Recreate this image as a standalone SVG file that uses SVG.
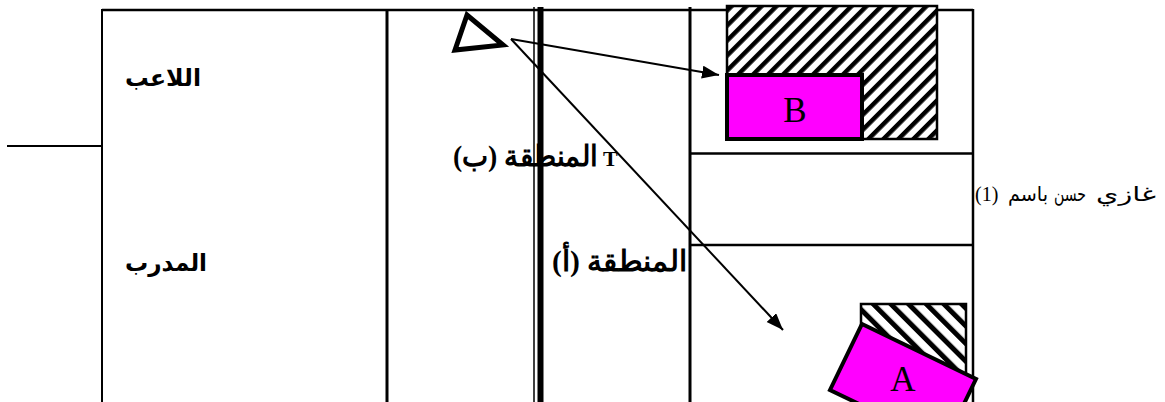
<svg xmlns="http://www.w3.org/2000/svg" width="1165" height="402" viewBox="0 0 1165 402">
<style>
.ln{stroke:#000;fill:none}
.lbl{font-family:"DejaVu Sans","Liberation Sans",sans-serif;font-weight:bold;font-size:24px;fill:#000}
.zone{font-family:"Liberation Serif","DejaVu Serif",serif;font-weight:bold;font-size:29px;fill:#000}
.tee{font-family:"Liberation Serif","Times New Roman",serif;font-weight:bold;font-size:22px;fill:#000}
.letter{font-family:"Liberation Serif","Times New Roman",serif;font-size:35px;text-anchor:middle;fill:#000}
.note{font-family:"Liberation Serif","DejaVu Sans",serif;font-size:20px;fill:#000}
.mag{fill:#ff00ff;stroke:#000;stroke-width:4}
.hb{stroke:#000;stroke-width:2.5}
.conn{stroke:#000;stroke-width:2;fill:none;marker-end:url(#arr)}
</style>
<defs>
<pattern id="hatchA" patternUnits="userSpaceOnUse" width="10.6" height="10.6" patternTransform="rotate(45)"><rect width="10.6" height="10.6" fill="#fff"/><rect width="4.5" height="10.6" fill="#000"/></pattern>
<pattern id="hatchB" patternUnits="userSpaceOnUse" width="12.5" height="12.5" patternTransform="rotate(-45)"><rect width="12.5" height="12.5" fill="#fff"/><rect width="5" height="12.5" fill="#000"/></pattern>
<marker id="arr" markerUnits="userSpaceOnUse" markerWidth="19" markerHeight="14" refX="17" refY="6.5" orient="auto"><path d="M0,0 L17,6.5 L0,13 z" fill="#000"/></marker>
</defs>
<g id="frame">
<line class="ln" x1="102" y1="10" x2="973" y2="10" stroke-width="2.5"/>
<line class="ln" x1="102" y1="9" x2="102" y2="402" stroke-width="2"/>
<line class="ln" x1="7" y1="146" x2="102" y2="146" stroke-width="2"/>
<line class="ln" x1="387" y1="9" x2="387" y2="402" stroke-width="3"/>
<line class="ln" x1="534" y1="7" x2="534" y2="402" stroke-width="1.5"/>
<line class="ln" x1="540.5" y1="7" x2="540.5" y2="402" stroke-width="6"/>
<line class="ln" x1="690" y1="7" x2="690" y2="402" stroke-width="3"/>
<line class="ln" x1="973" y1="9" x2="973" y2="402" stroke-width="2.5"/>
<line class="ln" x1="690" y1="153.5" x2="973" y2="153.5" stroke-width="2.5"/>
<line class="ln" x1="690" y1="245" x2="973" y2="245" stroke-width="2.5"/>
</g>
<g id="zoneB-hatch"><rect class="hb" x="727" y="6" width="210" height="133" fill="url(#hatchA)"/></g>
<g id="zoneA-hatch"><rect class="hb" x="861" y="304" width="105" height="72" fill="url(#hatchB)"/></g>
<g id="nodeB"><rect class="mag" x="727" y="75" width="135" height="64"/><text class="letter" x="795" y="122">B</text></g>
<g id="nodeA"><polygon class="mag" points="862,324 976,379 944,445 830,390"/><text class="letter" x="903" y="391">A</text></g>
<g id="player"><polygon points="467,15 455,50 503,45" fill="none" stroke="#000" stroke-width="5"/></g>
<g id="connectors">
<line class="conn" x1="511" y1="39" x2="719" y2="75"/>
<line class="conn" x1="511" y1="39" x2="783" y2="330"/>
</g>
<g id="labels">
<text class="lbl" x="125" y="86" textLength="76" lengthAdjust="spacingAndGlyphs">اللاعب</text>
<text class="lbl" x="125" y="271" textLength="82" lengthAdjust="spacingAndGlyphs">المدرب</text>
<text class="zone" x="453" y="166" textLength="145" lengthAdjust="spacingAndGlyphs">المنطقة (ب)</text>
<text class="tee" x="603" y="166">T</text>
<text class="zone" x="552" y="271" textLength="135" lengthAdjust="spacingAndGlyphs">المنطقة  (أ)</text>
<text class="note" y="201"><tspan x="975">(1)</tspan><tspan x="1003"> </tspan><tspan x="1008" textLength="40" lengthAdjust="spacingAndGlyphs">باسم</tspan><tspan x="1049"> </tspan><tspan x="1054" textLength="32" lengthAdjust="spacingAndGlyphs">حسن</tspan><tspan x="1089"> </tspan><tspan x="1096" textLength="60" lengthAdjust="spacingAndGlyphs">غازي</tspan></text>
</g>
</svg>
